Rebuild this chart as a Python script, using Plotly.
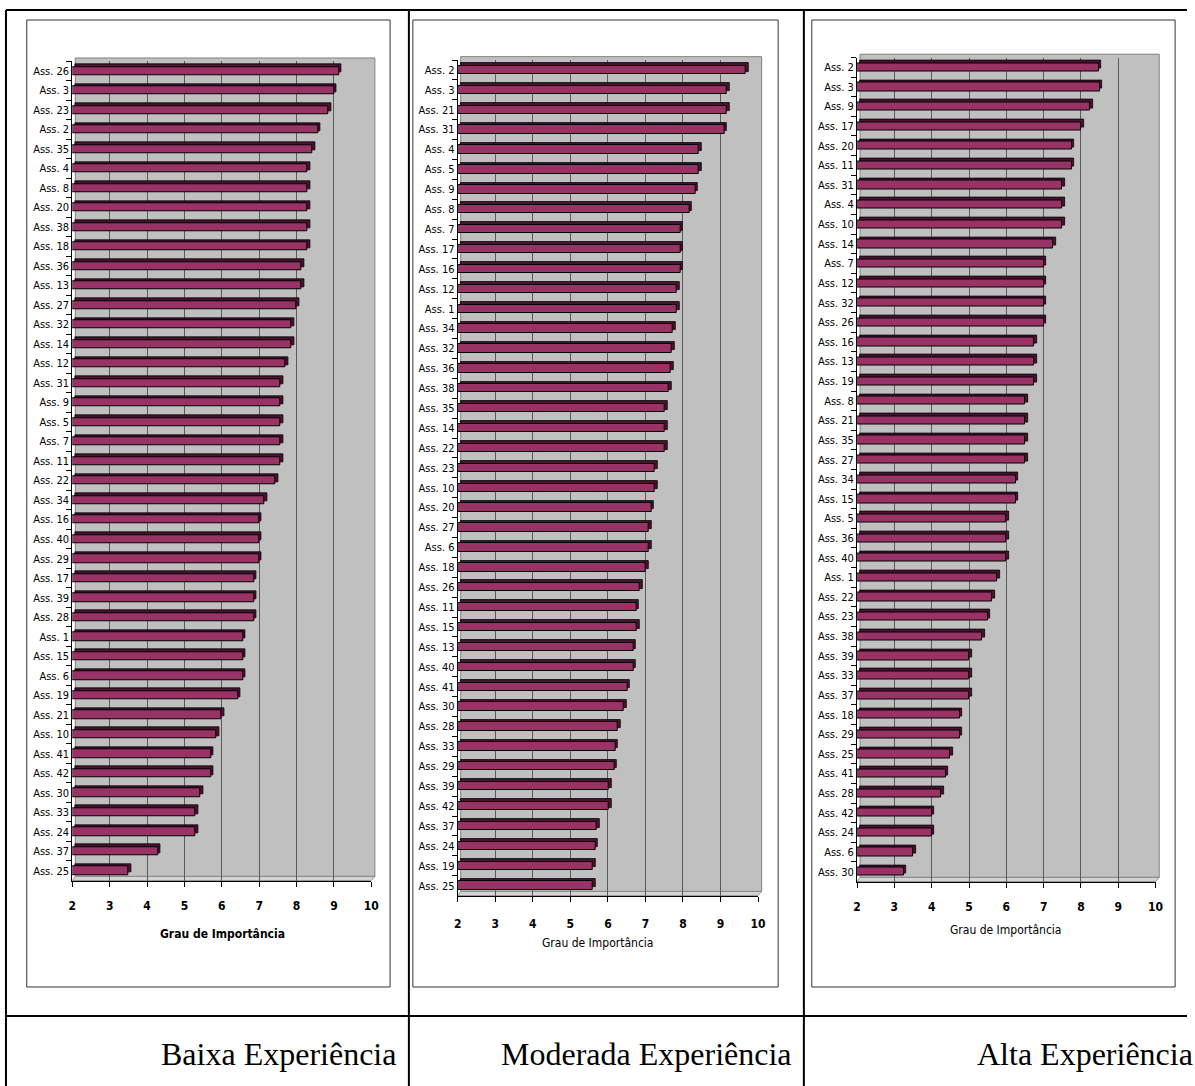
import plotly.graph_objects as go

# ---- data: mean importance per item, three experience groups ----
low_labels = ["Ass. 26", "Ass. 3", "Ass. 23", "Ass. 2", "Ass. 35", "Ass. 4", "Ass. 8", "Ass. 20",
              "Ass. 38", "Ass. 18", "Ass. 36", "Ass. 13", "Ass. 27", "Ass. 32", "Ass. 14", "Ass. 12",
              "Ass. 31", "Ass. 9", "Ass. 5", "Ass. 7", "Ass. 11", "Ass. 22", "Ass. 34", "Ass. 16",
              "Ass. 40", "Ass. 29", "Ass. 17", "Ass. 39", "Ass. 28", "Ass. 1", "Ass. 15", "Ass. 6",
              "Ass. 19", "Ass. 21", "Ass. 10", "Ass. 41", "Ass. 42", "Ass. 30", "Ass. 33", "Ass. 24",
              "Ass. 37", "Ass. 25"]
low_values = [9.14, 9.0, 8.86, 8.57, 8.43, 8.29, 8.29, 8.29,
              8.29, 8.29, 8.14, 8.14, 8.0, 7.86, 7.86, 7.71,
              7.57, 7.57, 7.57, 7.57, 7.57, 7.43, 7.14, 7.0,
              7.0, 7.0, 6.86, 6.86, 6.86, 6.57, 6.57, 6.57,
              6.43, 6.0, 5.86, 5.71, 5.71, 5.43, 5.29, 5.29,
              4.29, 3.5]

mid_labels = ["Ass. 2", "Ass. 3", "Ass. 21", "Ass. 31", "Ass. 4", "Ass. 5", "Ass. 9", "Ass. 8",
              "Ass. 7", "Ass. 17", "Ass. 16", "Ass. 12", "Ass. 1", "Ass. 34", "Ass. 32", "Ass. 36",
              "Ass. 38", "Ass. 35", "Ass. 14", "Ass. 22", "Ass. 23", "Ass. 10", "Ass. 20", "Ass. 27",
              "Ass. 6", "Ass. 18", "Ass. 26", "Ass. 11", "Ass. 15", "Ass. 13", "Ass. 40", "Ass. 41",
              "Ass. 30", "Ass. 28", "Ass. 33", "Ass. 29", "Ass. 39", "Ass. 42", "Ass. 37", "Ass. 24",
              "Ass. 19", "Ass. 25"]
mid_values = [9.67, 9.17, 9.17, 9.1, 8.42, 8.43, 8.33, 8.17,
              7.93, 7.93, 7.93, 7.84, 7.84, 7.73, 7.71, 7.68,
              7.63, 7.51, 7.51, 7.51, 7.25, 7.25, 7.16, 7.09,
              7.09, 7.01, 6.85, 6.76, 6.77, 6.68, 6.68, 6.52,
              6.43, 6.26, 6.2, 6.17, 6.02, 6.02, 5.71, 5.67,
              5.6, 5.6]

high_labels = ["Ass. 2", "Ass. 3", "Ass. 9", "Ass. 17", "Ass. 20", "Ass. 11", "Ass. 31", "Ass. 4",
               "Ass. 10", "Ass. 14", "Ass. 7", "Ass. 12", "Ass. 32", "Ass. 26", "Ass. 16", "Ass. 13",
               "Ass. 19", "Ass. 8", "Ass. 21", "Ass. 35", "Ass. 27", "Ass. 34", "Ass. 15", "Ass. 5",
               "Ass. 36", "Ass. 40", "Ass. 1", "Ass. 22", "Ass. 23", "Ass. 38", "Ass. 39", "Ass. 33",
               "Ass. 37", "Ass. 18", "Ass. 29", "Ass. 25", "Ass. 41", "Ass. 28", "Ass. 42", "Ass. 24",
               "Ass. 6", "Ass. 30"]
high_values = [8.48, 8.5, 8.24, 8.0, 7.75, 7.75, 7.5, 7.5,
               7.5, 7.25, 7.0, 7.0, 7.0, 7.0, 6.75, 6.75,
               6.75, 6.5, 6.5, 6.5, 6.5, 6.25, 6.25, 6.0,
               6.0, 6.0, 5.75, 5.63, 5.5, 5.35, 5.0, 5.0,
               5.0, 4.75, 4.75, 4.5, 4.38, 4.25, 4.0, 4.0,
               3.5, 3.25]

group_names = ["Baixa Experiência", "Moderada Experiência", "Alta Experiência"]
axis_title = "Grau de Importância"
x_ticks = [2, 3, 4, 5, 6, 7, 8, 9, 10]

# ---- page geometry (pixels) ----
W, H = 1195, 1086
AXIS_MIN = 2

FACE = "#993366"
SIDE = "#4a1431"
WALL = "#c0c0c0"
NARROW = "Liberation Sans Narrow, DejaVu Sans Condensed, Arial Narrow, sans-serif"

# plot area of each chart: (left, right, top, bottom) in px
areas = [(69, 371, 61.25, 880.5),
         (458.3, 761.7, 60, 895.6),
         (861.7, 1163.3, 57.5, 881.5)]
# chart frames (left, top, right, bottom)
frames = [(23, 20, 390, 987), (413, 20, 782, 987), (816, 20, 1183, 987)]
# axis title positions (x center, y center)
titles = [(221, 934, True), (600, 943, False), (1012, 930, False)]
tick_standoff = [9, 12, 9]


def fx(px):
    return px / W


def fy(py):
    return 1 - py / H


fig = go.Figure()
datasets = [(low_labels, low_values), (mid_labels, mid_values), (high_labels, high_values)]

shapes = []
annotations = []
layout_axes = {}

for i, (labels, values) in enumerate(datasets):
    n = i + 1
    xa = "x" if n == 1 else f"x{n}"
    ya = "y" if n == 1 else f"y{n}"
    lengths = [v - AXIS_MIN for v in values]

    # dark depth faces (top and right) of the 3-D bars
    fig.add_trace(go.Bar(
        y=labels, x=lengths, base=AXIS_MIN + 0.07, orientation="h",
        width=0.42, offset=-0.34,
        marker=dict(color=SIDE, line=dict(color="black", width=0.8)),
        xaxis=xa, yaxis=ya, showlegend=False, hoverinfo="skip"))
    # front faces
    fig.add_trace(go.Bar(
        y=labels, x=lengths, base=AXIS_MIN, orientation="h",
        width=0.42, offset=-0.21,
        marker=dict(color=FACE, line=dict(color="black", width=1)),
        xaxis=xa, yaxis=ya, showlegend=False,
        customdata=values, hovertemplate="%{y}: %{customdata}<extra></extra>"))

    l, r, t, b = areas[i]
    xkey = "xaxis" if n == 1 else f"xaxis{n}"
    ykey = "yaxis" if n == 1 else f"yaxis{n}"
    layout_axes[xkey] = dict(
        domain=[fx(l), fx(r)], anchor=ya, range=[2, 10],
        tickvals=x_ticks, ticktext=[str(v) for v in x_ticks],
        showgrid=True, gridcolor="#5a5a5a", gridwidth=1, zeroline=False,
        showline=True, linecolor="black", linewidth=1,
        ticks="outside", ticklen=5, tickcolor="black",
        ticklabelstandoff=tick_standoff[i],
        tickfont=dict(family=NARROW, size=12, color="black", weight="bold"),
        fixedrange=True)
    layout_axes[ykey] = dict(
        domain=[fy(b), fy(t)], anchor=xa, type="category",
        categoryorder="array", categoryarray=labels,
        range=[len(labels) - 0.5, -0.5],
        showgrid=False, zeroline=False,
        showline=True, linecolor="black", linewidth=1,
        ticks="outside", ticklen=5, tickcolor="black", tickson="boundaries",
        tickfont=dict(family=NARROW, size=11, color="black"),
        fixedrange=True)

    # back wall of the 3-D chart, slightly offset up/right
    dref_x = f"{xa} domain"
    dref_y = f"{ya} domain"
    shapes.append(dict(type="rect", xref=dref_x, yref=dref_y,
                       x0=0.01, x1=1.012, y0=0.005, y1=1.004,
                       fillcolor=WALL, line=dict(color="#808080", width=1), layer="below"))
    # floor strip
    shapes.append(dict(type="path", xref=dref_x, yref=dref_y,
                       path="M0,0 L1,0 L1.012,0.005 L0.01,0.005 Z",
                       fillcolor="#d4d4d4", line=dict(color="#808080", width=0.8), layer="below"))

    # chart frame
    fl, ft, fr, fb = frames[i]
    shapes.append(dict(type="rect", xref="paper", yref="paper",
                       x0=fx(fl), x1=fx(fr), y0=fy(fb), y1=fy(ft),
                       line=dict(color="#333333", width=1), fillcolor="rgba(0,0,0,0)", layer="below"))

    tx, ty, bold = titles[i]
    annotations.append(dict(text=axis_title, x=fx(tx), y=fy(ty), xref="paper", yref="paper",
                            showarrow=False, xanchor="center", yanchor="middle",
                            font=dict(family=NARROW, size=12, color="black",
                                      weight="bold" if bold else "normal")))

# table rules around the three charts and their captions
for x0, y0, x1, y1 in [(2, 10, W, 10), (2, 10, 2, H), (409, 10, 409, H),
                       (808, 10, 808, H), (2, 1016, W, 1016)]:
    shapes.append(dict(type="line", xref="paper", yref="paper",
                       x0=fx(x0), x1=fx(x1), y0=fy(y0), y1=fy(y1),
                       line=dict(color="black", width=2)))

caption_right = [398, 798, 1203]
for name, xr in zip(group_names, caption_right):
    annotations.append(dict(text=name, x=fx(xr), y=fy(1054), xref="paper", yref="paper",
                            showarrow=False, xanchor="right", yanchor="middle",
                            font=dict(family="Liberation Serif, Times New Roman, serif",
                                      size=32, color="black")))

fig.update_layout(
    width=W, height=H,
    margin=dict(l=0, r=0, t=0, b=0),
    paper_bgcolor="white", plot_bgcolor="rgba(0,0,0,0)",
    barmode="overlay", bargap=0,
    shapes=shapes, annotations=annotations,
    **layout_axes)

fig.write_html("out.html")
